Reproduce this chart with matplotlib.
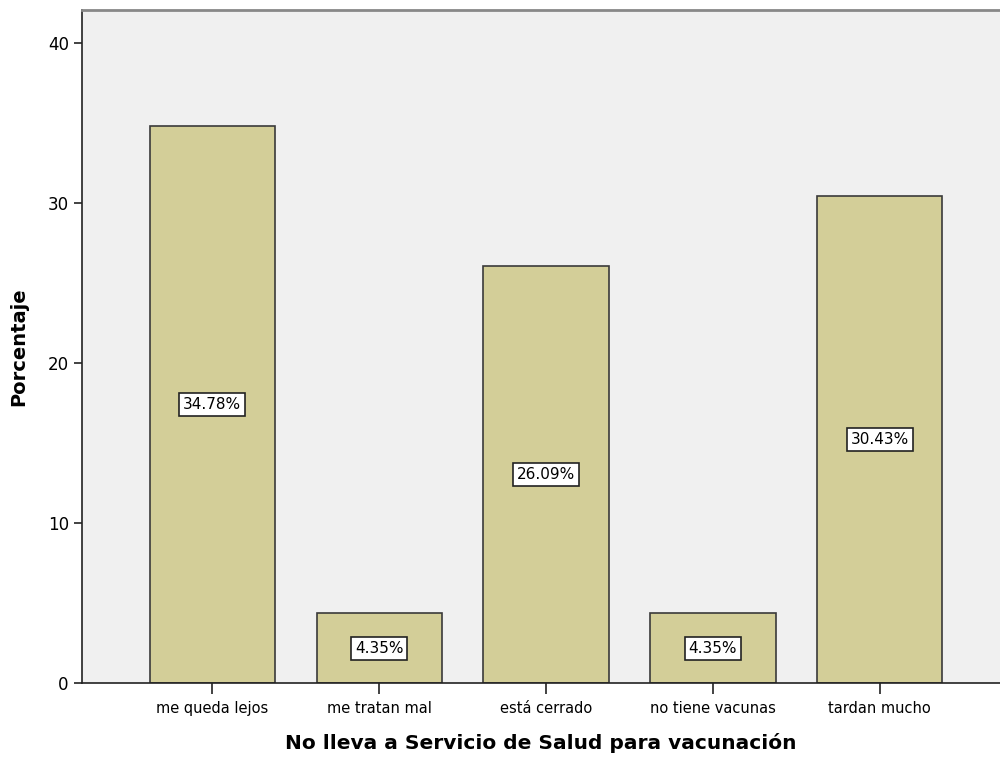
import matplotlib.pyplot as plt
import numpy as np

categories = ['me queda lejos', 'me tratan mal', 'está cerrado', 'no tiene vacunas', 'tardan mucho']
percent = [34.78, 4.35, 26.09, 4.35, 30.43]
yticks = [0, 10, 20, 30, 40]

plt.rcParams['font.family'] = ['DejaVu Sans']

fig = plt.figure(figsize=(10, 7.58), dpi=100)
ax = fig.add_axes([0.082, 0.0989, 0.918, 0.888])
ax.set_facecolor('#F0F0F0')

x = np.arange(len(categories))
ax.bar(x, percent, width=0.75, color='#D3CE98', edgecolor='#3a3a3a', linewidth=1.2, zorder=2)

for xi, v in zip(x, percent):
    ax.text(xi, v / 2, f'{v:.2f}%', ha='center', va='center', fontsize=11, zorder=3,
            bbox=dict(boxstyle='square,pad=0.25', fc='white', ec='#222222', lw=1.2))

ax.set_xlim(-0.78, 4.72)
ax.set_ylim(0, 42.06)
ax.set_xticks(x)
ax.set_xticklabels(categories, fontsize=10.5)
ax.set_yticks(yticks)
ax.tick_params(axis='y', labelsize=12, length=6, width=1.2, color='#222222')
ax.tick_params(axis='x', length=8, width=1.2, color='#222222', pad=5)

ax.spines['right'].set_visible(False)
ax.spines['top'].set_color('#888888')
ax.spines['top'].set_linewidth(2)
ax.spines['left'].set_color('#222222')
ax.spines['bottom'].set_color('#222222')
ax.spines['left'].set_linewidth(1.2)
ax.spines['bottom'].set_linewidth(1.2)

ax.set_xlabel('No lleva a Servicio de Salud para vacunación', fontsize=14.5, fontweight='bold', labelpad=12)
ax.set_ylabel('Porcentaje', fontsize=14, fontweight='bold', labelpad=14)

fig.savefig('out.png', dpi=100)
